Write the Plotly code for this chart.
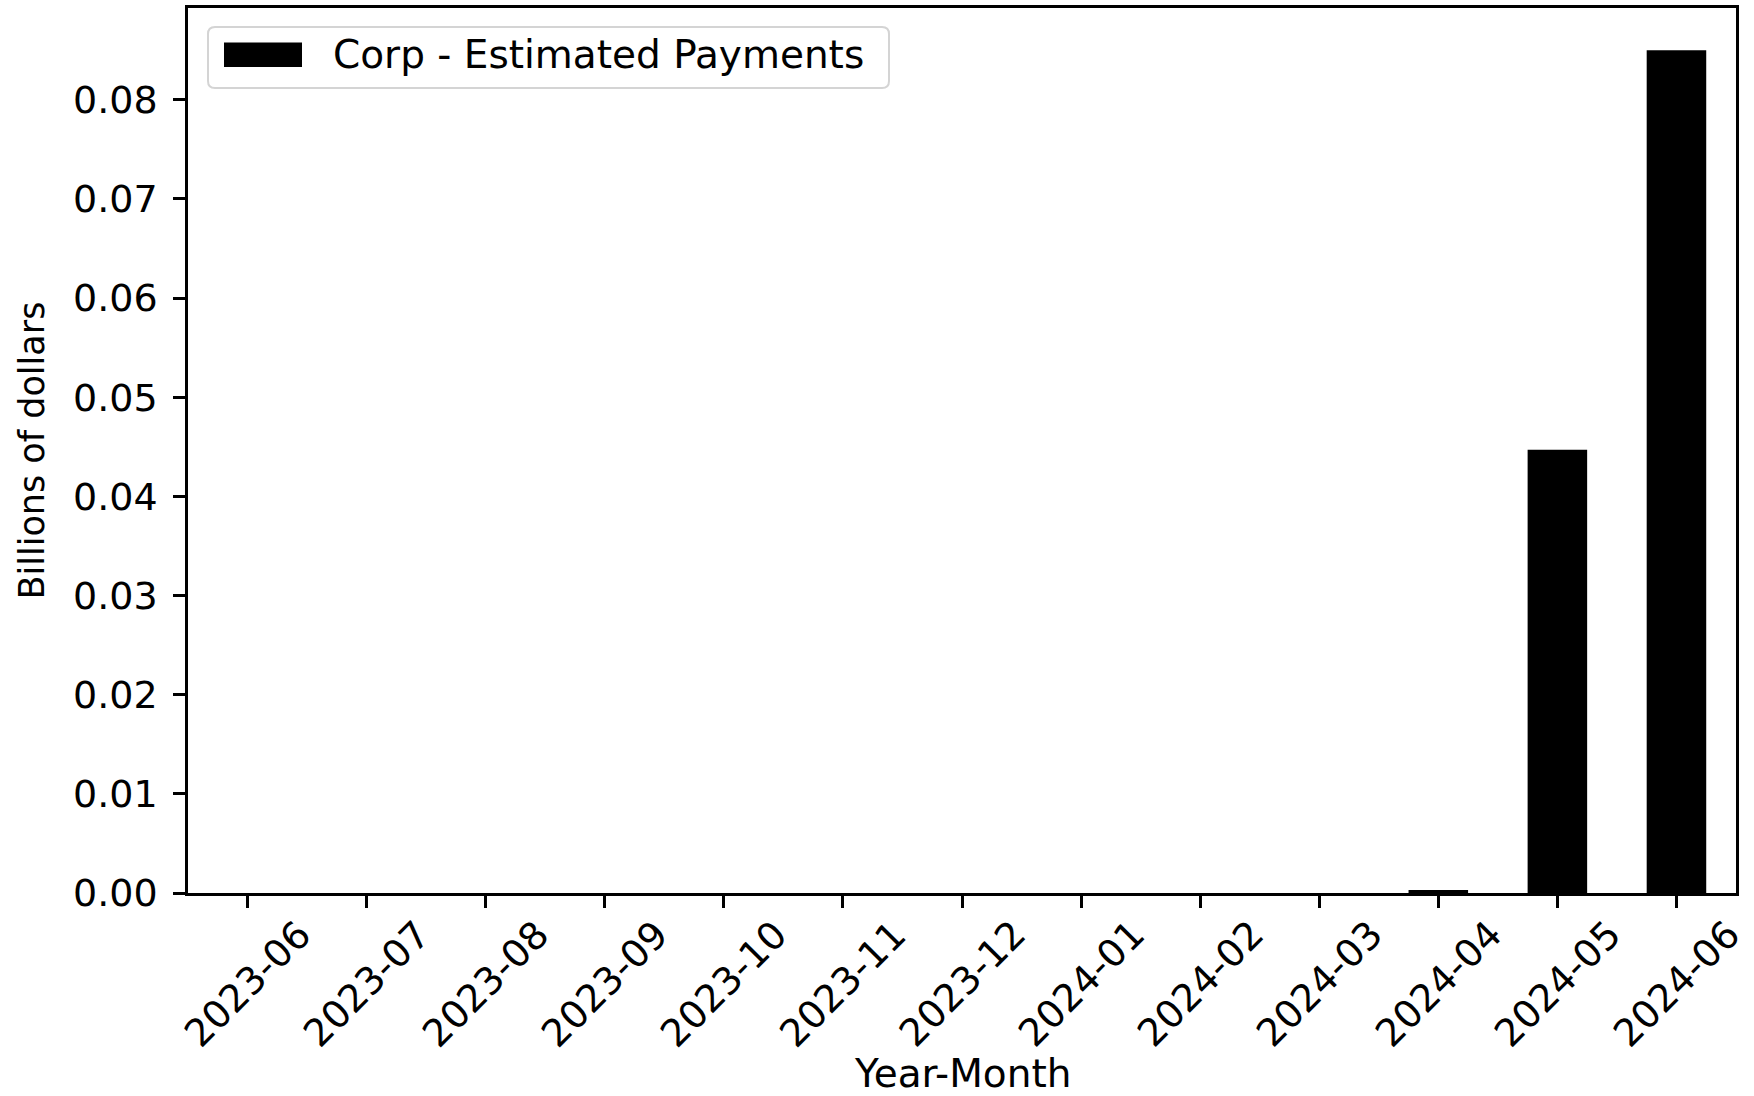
import plotly.graph_objects as go

# ---- data ----
months = ["2023-06", "2023-07", "2023-08", "2023-09", "2023-10", "2023-11", "2023-12",
          "2024-01", "2024-02", "2024-03", "2024-04", "2024-05", "2024-06"]
values = [0, 0, 0, 0, 0, 0, 0, 0, 0, 0, 0.0003, 0.0447, 0.085]
series_name = "Corp - Estimated Payments"
y_ticks = [0.00, 0.01, 0.02, 0.03, 0.04, 0.05, 0.06, 0.07, 0.08]
y_tick_labels = ["0.00", "0.01", "0.02", "0.03", "0.04", "0.05", "0.06", "0.07", "0.08"]
x_title = "Year-Month"
y_title = "Billions of dollars"

# ---- layout constants ----
W, H = 1754, 1096
L, R, T, B = 188, 18, 8, 203
PW, PH = W - L - R, H - T - B
FONT = "DejaVu Sans"


def px_x(p):
    return p / PW


def px_y(p):  # pixels below plot top -> paper y
    return 1 - p / PH


fig = go.Figure(go.Bar(
    x=months, y=values, width=0.5,
    marker=dict(color="black", line=dict(width=0)),
    name=series_name, showlegend=False,
))

fig.update_layout(
    width=W, height=H,
    margin=dict(l=L, r=R, t=T, b=B, autoexpand=False),
    paper_bgcolor="white", plot_bgcolor="white",
    font=dict(family=FONT, size=38, color="black"),
    showlegend=False,
)

fig.update_xaxes(
    type="category", range=[-0.5, len(months) - 0.5],
    tickmode="array", tickvals=months, showticklabels=False,
    ticks="outside", ticklen=12, tickwidth=2.5, tickcolor="black",
    showline=True, linecolor="black", linewidth=2.5, mirror=True,
    showgrid=False, zeroline=False,
)
fig.update_yaxes(
    range=[0, max(values) * 1.05],
    tickmode="array", tickvals=y_ticks, ticktext=y_tick_labels,
    ticks="outside", ticklen=12, tickwidth=2.5, tickcolor="black",
    ticklabelstandoff=8,
    tickfont=dict(family=FONT, size=38, color="black"),
    showline=True, linecolor="black", linewidth=2.5, mirror=True,
    showgrid=False, zeroline=False,
)

annotations = []
# rotated x tick labels, centered under ticks (matplotlib style)
for m in months:
    annotations.append(dict(
        x=m, xref="x", y=0, yref="paper", text=m, textangle=-45,
        xanchor="center", yanchor="top", yshift=-16, showarrow=False,
        font=dict(family=FONT, size=38, color="black"),
    ))
# axis titles
annotations.append(dict(
    x=0.5, xref="paper", y=0, yref="paper", text=x_title,
    xanchor="center", yanchor="middle", yshift=-180, showarrow=False,
    font=dict(family=FONT, size=39, color="black"),
))
annotations.append(dict(
    x=0, xref="paper", y=0.5, yref="paper", text=y_title, textangle=-90,
    xanchor="center", yanchor="middle", xshift=-157, showarrow=False,
    font=dict(family=FONT, size=35, color="black"),
))
# legend text
annotations.append(dict(
    x=px_x(143), xref="paper", y=px_y(47), yref="paper", text=series_name,
    xanchor="left", yanchor="middle", showarrow=False,
    font=dict(family=FONT, size=39, color="black"),
))
fig.update_layout(annotations=annotations)

# legend frame (rounded) and patch
x0, x1 = px_x(20), px_x(701)
y0, y1 = px_y(80), px_y(19)
rx, ry = px_x(7), 7 / PH
path = (f"M {x0+rx},{y1} L {x1-rx},{y1} Q {x1},{y1} {x1},{y1-ry} "
        f"L {x1},{y0+ry} Q {x1},{y0} {x1-rx},{y0} L {x0+rx},{y0} "
        f"Q {x0},{y0} {x0},{y0+ry} L {x0},{y1-ry} Q {x0},{y1} {x0+rx},{y1} Z")
fig.add_shape(type="path", path=path, xref="paper", yref="paper",
              fillcolor="rgba(255,255,255,0.8)", line=dict(color="#d4d4d4", width=2))
fig.add_shape(type="rect", xref="paper", yref="paper",
              x0=px_x(36), x1=px_x(114), y0=px_y(59), y1=px_y(34.5),
              fillcolor="black", line=dict(width=0))

fig.write_html(
    "out.html",
    config={"displayModeBar": False},
    post_script="document.body.style.margin='0px';document.body.style.padding='0px';",
)
